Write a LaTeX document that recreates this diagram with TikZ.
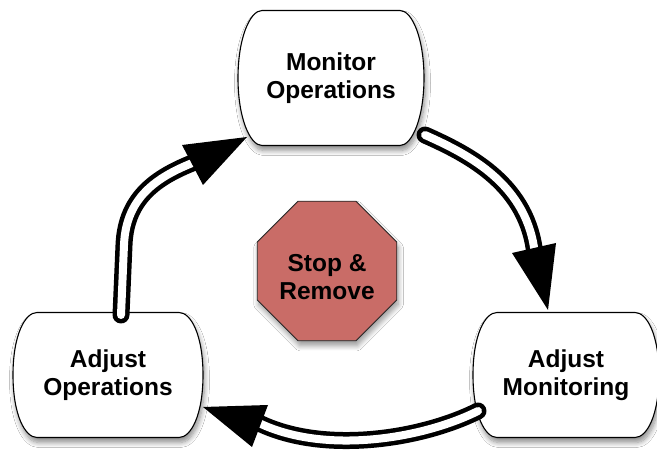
\documentclass[tikz,border=0pt]{standalone}
\usepackage{fontspec}
\setmainfont{Liberation Sans}
\usetikzlibrary{shapes.geometric,shadows.blur}
\definecolor{stopred}{HTML}{C96C67}
\tikzset{
  proc/.style={draw=none, align=center, inner sep=0pt,
    font=\fontsize{24.5}{27.5}\selectfont\bfseries, text=black},
  procshape/.style={draw=black, line width=1.1pt, fill=white,
    blur shadow={shadow xshift=1.5pt, shadow yshift=-5pt,
      shadow blur steps=8, shadow blur radius=5pt, shadow opacity=45}},
  stopnode/.style={regular polygon, regular polygon sides=8,
    minimum size=151pt, inner sep=0pt, fill=stopred,
    draw=black!85, line width=0.9pt,
    font=\fontsize{24.5}{28}\selectfont\bfseries,
    blur shadow={shadow xshift=1.5pt, shadow yshift=-5pt,
      shadow blur steps=8, shadow blur radius=5pt, shadow opacity=40}},
  tube/.style={draw=black, line width=4.5pt, double=white,
    double distance=8pt, line cap=round},
  head/.style={fill=black}
}
% #1 name, #2 cx, #3 cy, #4 width, #5 height, #6 text
\newcommand\procbox[6]{%
  \pgfmathsetmacro\pbL{#2-#4/2}\pgfmathsetmacro\pbR{#2+#4/2}%
  \pgfmathsetmacro\pbT{#3-#5/2}\pgfmathsetmacro\pbB{#3+#5/2}%
  \path[procshape] (\pbL+24,\pbT) -- (\pbR-24,\pbT)
   .. controls (\pbR-12,\pbT) and (\pbR,#3-40) .. (\pbR,#3)
   .. controls (\pbR,#3+40) and (\pbR-12,\pbB) .. (\pbR-24,\pbB)
   -- (\pbL+24,\pbB)
   .. controls (\pbL+12,\pbB) and (\pbL,#3+40) .. (\pbL,#3)
   .. controls (\pbL,#3-40) and (\pbL+12,\pbT) .. cycle;
  \node[proc, minimum width=#4pt, minimum height=#5pt] (#1) at (#2,#3) {#6};}
\begin{document}
\begin{tikzpicture}[x=1pt,y=-1pt]
\fill[white] (0,0) rectangle (657,465);
\useasboundingbox (0,0) rectangle (657,465);

% process nodes
\procbox{mon}{331}{78}{186}{135}{Monitor\\Operations}
\procbox{aop}{108}{375}{190}{125}{Adjust\\Operations}
\procbox{amo}{566}{375}{186}{125}{Adjust\\Monitoring}

% stop sign
\node[stopnode] (stop) at (327,271)
  {\raisebox{-15pt}[0pt][0pt]{\begin{tabular}{@{}c@{}}Stop \&\\Remove\end{tabular}}};

% connector ends
\coordinate (s1) at (425,135);
\coordinate (e1) at (535,255);
\coordinate (t1) at (548,310);
\coordinate (b1a) at (512,253);
\coordinate (b1b) at (556,243);

\coordinate (s2) at (478,411);
\coordinate (e2) at (255,421);
\coordinate (t2) at (203,407);
\coordinate (b2a) at (268,405);
\coordinate (b2b) at (252,447);

\coordinate (s3) at (121,315);
\coordinate (e3) at (200,160);
\coordinate (t3) at (247,137);
\coordinate (b3a) at (182,145);
\coordinate (b3b) at (203,185);

% Monitor Operations -> Adjust Monitoring
\draw[tube] (s1) .. controls (470,155) and (528,185) .. (e1);
\fill[head] (b1a) -- (t1) -- (b1b) -- cycle;

% Adjust Monitoring -> Adjust Operations
\draw[tube] (s2) .. controls (420,440) and (320,455) .. (e2);
\fill[head] (b2a) -- (t2) -- (b2b) -- cycle;

% Adjust Operations -> Monitor Operations
\draw[tube] (s3) -- (124,245) .. controls (126,195) and (160,175) .. (e3);
\fill[head] (b3a) -- (t3) -- (b3b) -- cycle;
\end{tikzpicture}
\end{document}
